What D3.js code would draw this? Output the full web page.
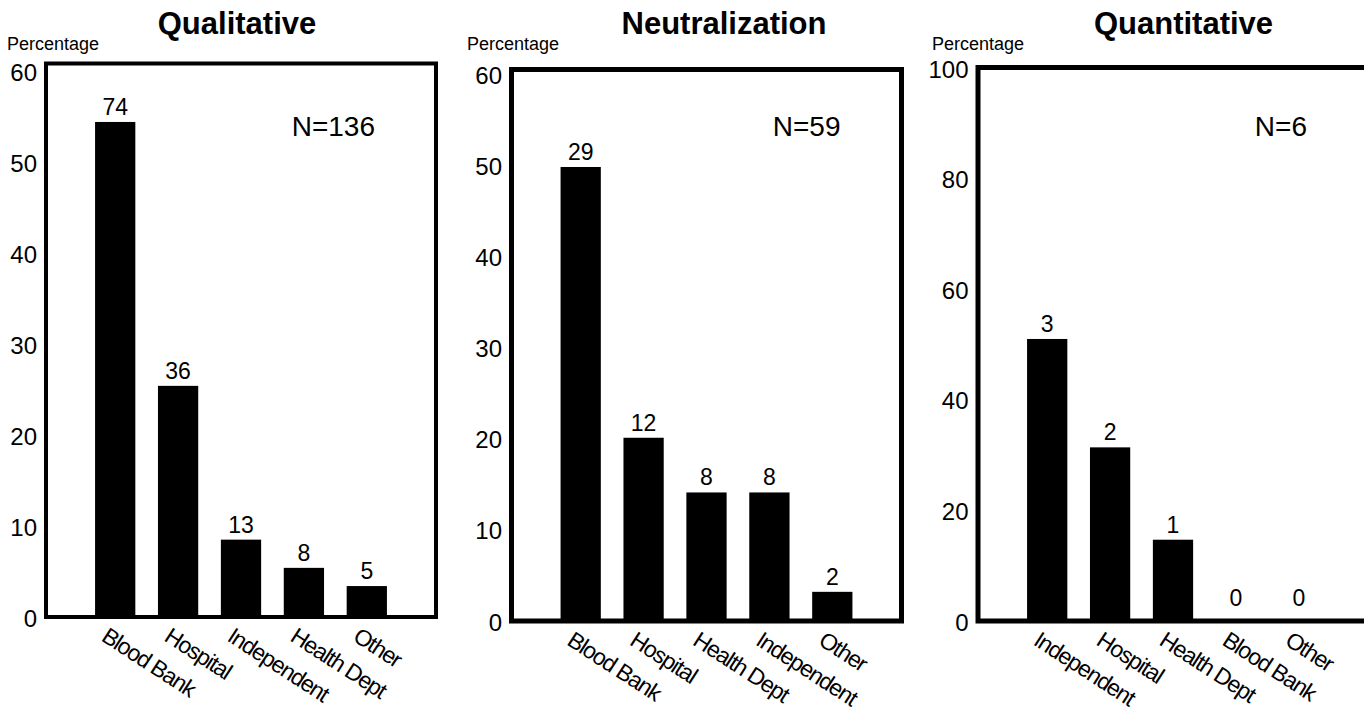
<!DOCTYPE html>
<html>
<head>
<meta charset="utf-8">
<script src="https://cdn.jsdelivr.net/npm/d3@7"></script>
<style>
  body { margin: 0; background: #fff; }
  text { font-family: "Liberation Sans", Arial, sans-serif; fill: #000; }
</style>
</head>
<body>
<div id="chart"></div>
<script>
// data
var titles = ["Qualitative", "Neutralization", "Quantitative"];
var totals = [136, 59, 6];

var qualCategories = ["Blood Bank", "Hospital", "Independent", "Health Dept", "Other"];
var qualCounts = [74, 36, 13, 8, 5];
var qualPercent = [54.4, 25.4, 8.5, 5.4, 3.4];

var neutCategories = ["Blood Bank", "Hospital", "Health Dept", "Independent", "Other"];
var neutCounts = [29, 12, 8, 8, 2];
var neutPercent = [49.8, 20.1, 14.1, 14.1, 3.2];

var quantCategories = ["Independent", "Hospital", "Health Dept", "Blood Bank", "Other"];
var quantCounts = [3, 2, 1, 0, 0];
var quantPercent = [51.0, 31.4, 14.7, 0, 0];

var yMaxes = [60, 60, 100];
var yTicks = [[0, 10, 20, 30, 40, 50, 60], [0, 10, 20, 30, 40, 50, 60], [0, 20, 40, 60, 80, 100]];

// layout
var width = 1364, height = 712;
var frameW = 390;
var layout = [
  {left: 46,    top: 63.5, bottom: 617, yTop: 71, stroke: 4, titleX: 237,    pctX: 7},
  {left: 511.5, top: 69.5, bottom: 621, yTop: 74, stroke: 5, titleX: 724,    pctX: 467},
  {left: 978,   top: 67.5, bottom: 621, yTop: 68, stroke: 5, titleX: 1183.5, pctX: 932}
];

var panels = [
  {cats: qualCategories, counts: qualCounts, pct: qualPercent},
  {cats: neutCategories, counts: neutCounts, pct: neutPercent},
  {cats: quantCategories, counts: quantCounts, pct: quantPercent}
];

var svg = d3.select("#chart")
            .append("svg")
            .attr("width", width)
            .attr("height", height);

panels.forEach(function(p, i) {
    var L = layout[i];
    var g = svg.append("g");

    var x = d3.scaleBand()
              .domain(p.cats)
              .range([L.left, L.left + frameW])
              .paddingInner(0.36)
              .paddingOuter(0.78);

    var y = d3.scaleLinear()
              .domain([0, yMaxes[i]])
              .range([L.bottom, L.yTop]);

    var rows = p.cats.map(function(c, k) { return {cat: c, n: p.counts[k], v: p.pct[k]}; });

    //Bars
    g.selectAll("rect.bar")
     .data(rows)
     .enter()
     .append("rect")
     .attr("class", "bar")
     .attr("x", d => x(d.cat))
     .attr("width", x.bandwidth())
     .attr("y", d => y(d.v))
     .attr("height", d => L.bottom - y(d.v))
     .attr("fill", "#000");

    //Count labels above bars
    g.selectAll("text.count")
     .data(rows)
     .enter()
     .append("text")
     .attr("class", "count")
     .attr("x", d => x(d.cat) + x.bandwidth() / 2)
     .attr("y", d => y(d.v) - (d.v === 0 ? 15 : 7))
     .attr("text-anchor", "middle")
     .style("font-size", "23px")
     .text(d => d.n);

    //Frame
    g.append("rect")
     .attr("x", L.left)
     .attr("y", L.top)
     .attr("width", frameW)
     .attr("height", L.bottom - L.top)
     .attr("fill", "none")
     .attr("stroke", "#000")
     .attr("stroke-width", L.stroke);

    //Y axis labels
    var yAxis = g.append("g")
                 .attr("transform", "translate(" + (L.left - L.stroke / 2) + ",0)")
                 .call(d3.axisLeft(y).tickValues(yTicks[i]).tickSize(0).tickPadding(7));
    yAxis.select(".domain").remove();
    yAxis.selectAll("text")
         .attr("dy", "0.38em")
         .style("font-family", "'Liberation Sans', Arial, sans-serif")
         .style("font-size", "24px")
         .attr("fill", "#000");

    //X axis labels, slanted
    var xAxis = g.append("g")
                 .attr("transform", "translate(0," + L.bottom + ")")
                 .call(d3.axisBottom(x).tickSize(0));
    xAxis.select(".domain").remove();
    xAxis.selectAll("text")
         .attr("x", 0).attr("y", 0).attr("dy", 0)
         .attr("text-anchor", "start")
         .attr("transform", "translate(-15,23) rotate(33)")
         .style("font-family", "'Liberation Sans', Arial, sans-serif")
         .style("font-size", "23px")
         .style("letter-spacing", "-1.2px")
         .attr("fill", "#000");

    //Title
    g.append("text")
     .attr("x", L.titleX)
     .attr("y", 34)
     .attr("text-anchor", "middle")
     .style("font-size", "31px")
     .style("font-weight", "bold")
     .text(titles[i]);

    g.append("text")
     .attr("x", L.pctX)
     .attr("y", 50)
     .style("font-size", "18px")
     .text("Percentage");

    g.append("text")
     .attr("x", L.left + 329)
     .attr("y", 136)
     .attr("text-anchor", "end")
     .style("font-size", "28px")
     .text("N=" + totals[i]);
});
</script>
</body>
</html>
